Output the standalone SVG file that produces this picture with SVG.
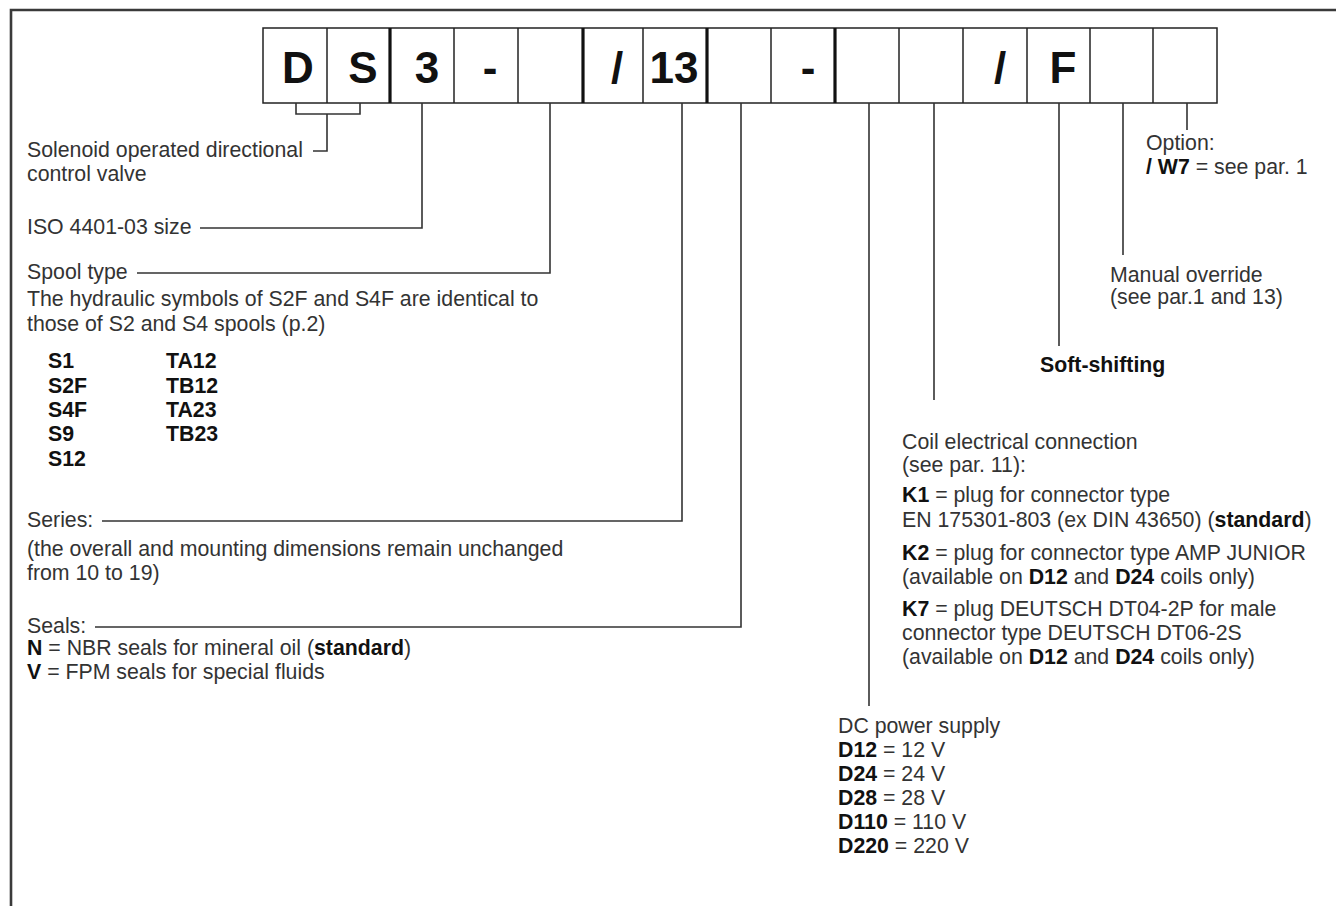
<svg xmlns="http://www.w3.org/2000/svg" width="1336" height="906" viewBox="0 0 1336 906">
<style>
.t{font-family:"Liberation Sans",Arial,sans-serif;font-size:21.3px;fill:#333}
.b{font-weight:bold;fill:#111}
.big{font-family:"Liberation Sans",Arial,sans-serif;font-size:44px;font-weight:bold;fill:#111;text-anchor:middle}
.ln{fill:none;stroke:#333;stroke-width:1.6}
.cell{fill:#fff;stroke:#222;stroke-width:1.5}
.thick{stroke:#111;stroke-width:3.2}
.thin{stroke:#222;stroke-width:1.5}
</style>
<rect width="1336" height="906" fill="#fff"/>
<g id="frame"><path d="M11 906 V10 H1336" fill="none" stroke="#3a3a3a" stroke-width="2.6"/></g>
<g id="code">
<rect class="cell" x="263" y="28" width="954" height="75"/>
<g class="thin">
<line x1="327" y1="28" x2="327" y2="103"/><line x1="454" y1="28" x2="454" y2="103"/><line x1="518" y1="28" x2="518" y2="103"/>
<line x1="643" y1="28" x2="643" y2="103"/><line x1="771" y1="28" x2="771" y2="103"/><line x1="899" y1="28" x2="899" y2="103"/>
<line x1="963" y1="28" x2="963" y2="103"/><line x1="1027" y1="28" x2="1027" y2="103"/><line x1="1090" y1="28" x2="1090" y2="103"/>
<line x1="1153" y1="28" x2="1153" y2="103"/>
</g>
<g class="thick">
<line x1="390" y1="28" x2="390" y2="103"/><line x1="583" y1="28" x2="583" y2="103"/><line x1="707" y1="28" x2="707" y2="103"/><line x1="835" y1="28" x2="835" y2="103"/>
</g>
<text class="big" x="298" y="83">D</text>
<text class="big" x="363" y="83">S</text>
<text class="big" x="427" y="83">3</text>
<text class="big" x="490" y="83">-</text>
<text class="big" x="617" y="83">/</text>
<text class="big" x="674" y="83">13</text>
<text class="big" x="808" y="83">-</text>
<text class="big" x="1000" y="83">/</text>
<text class="big" x="1063" y="83">F</text>
</g>
<g id="connectors" class="ln">
<path d="M296 103 V114 H360 V103"/>
<path d="M313 151 H327 V114"/>
<path d="M200 228 H422 V103"/>
<path d="M137 273 H550 V103"/>
<path d="M102 521 H682 V103"/>
<path d="M95 627 H741 V103"/>
<path d="M869 103 V706"/>
<path d="M934 103 V400"/>
<path d="M1059 103 V346"/>
<path d="M1123 103 V255"/>
<path d="M1187 103 V130"/>
</g>
<g id="solenoid"><text class="t" x="27" y="157">Solenoid operated directional</text><text class="t" x="27" y="181">control valve</text></g>
<g id="size"><text class="t" x="27" y="234">ISO 4401-03 size</text></g>
<g id="spool">
<text class="t" x="27" y="279">Spool type</text>
<text class="t" x="27" y="306">The hydraulic symbols of S2F and S4F are identical to</text>
<text class="t" x="27" y="331">those of S2 and S4 spools (p.2)</text>
<text class="t b" x="48" y="368">S1</text><text class="t b" x="166" y="368">TA12</text>
<text class="t b" x="48" y="393">S2F</text><text class="t b" x="166" y="393">TB12</text>
<text class="t b" x="48" y="417">S4F</text><text class="t b" x="166" y="417">TA23</text>
<text class="t b" x="48" y="441">S9</text><text class="t b" x="166" y="441">TB23</text>
<text class="t b" x="48" y="466">S12</text>
</g>
<g id="series">
<text class="t" x="27" y="527">Series:</text>
<text class="t" x="27" y="556">(the overall and mounting dimensions remain unchanged</text>
<text class="t" x="27" y="580">from 10 to 19)</text>
</g>
<g id="seals">
<text class="t" x="27" y="633">Seals:</text>
<text class="t" x="27" y="655"><tspan class="b">N</tspan> = NBR seals for mineral oil (<tspan class="b">standard</tspan>)</text>
<text class="t" x="27" y="679"><tspan class="b">V</tspan> = FPM seals for special fluids</text>
</g>
<g id="power">
<text class="t" x="838" y="733">DC power supply</text>
<text class="t" x="838" y="757"><tspan class="b">D12</tspan> = 12 V</text>
<text class="t" x="838" y="781"><tspan class="b">D24</tspan> = 24 V</text>
<text class="t" x="838" y="805"><tspan class="b">D28</tspan> = 28 V</text>
<text class="t" x="838" y="829"><tspan class="b">D110</tspan> = 110 V</text>
<text class="t" x="838" y="853"><tspan class="b">D220</tspan> = 220 V</text>
</g>
<g id="coil">
<text class="t" x="902" y="449">Coil electrical connection</text>
<text class="t" x="902" y="472">(see par. 11):</text>
<text class="t" x="902" y="502"><tspan class="b">K1</tspan> = plug for connector type</text>
<text class="t" x="902" y="527">EN 175301-803 (ex DIN 43650) (<tspan class="b">standard</tspan>)</text>
<text class="t" x="902" y="560"><tspan class="b">K2</tspan> = plug for connector type AMP JUNIOR</text>
<text class="t" x="902" y="584">(available on <tspan class="b">D12</tspan> and <tspan class="b">D24</tspan> coils only)</text>
<text class="t" x="902" y="616"><tspan class="b">K7</tspan> = plug DEUTSCH DT04-2P for male</text>
<text class="t" x="902" y="640">connector type DEUTSCH DT06-2S</text>
<text class="t" x="902" y="664">(available on <tspan class="b">D12</tspan> and <tspan class="b">D24</tspan> coils only)</text>
</g>
<g id="soft"><text class="t b" x="1040" y="372">Soft-shifting</text></g>
<g id="manual"><text class="t" x="1110" y="282">Manual override</text><text class="t" x="1110" y="304">(see par.1 and 13)</text></g>
<g id="option"><text class="t" x="1146" y="150">Option:</text><text class="t" x="1146" y="174"><tspan class="b">/ W7</tspan> = see par. 1</text></g>
</svg>
